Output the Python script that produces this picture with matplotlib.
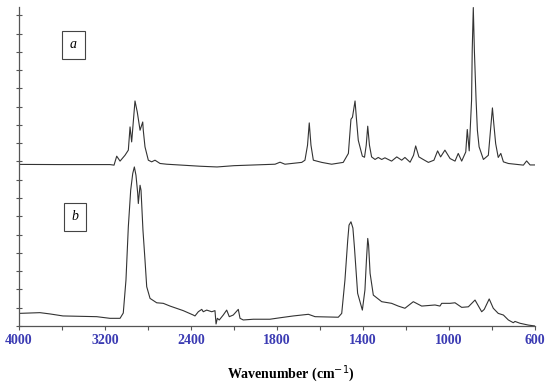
import numpy as np
import matplotlib
matplotlib.use("Agg")
import matplotlib.pyplot as plt

# spectrum a (upper trace), wavenumber in cm-1 and absorbance (stacked units)
wn_a = [4000, 3619, 3154, 3116, 3091, 3060, 3014, 2983, 2967, 2952, 2921, 2900,
        2874, 2849, 2844, 2828, 2797, 2766, 2735, 2688, 2626, 2316, 2158, 2000,
        1809, 1786, 1763, 1685, 1670, 1658, 1650, 1642, 1631, 1592, 1546, 1492,
        1468, 1456, 1449, 1437, 1430, 1422, 1403, 1393, 1385, 1378, 1370, 1360,
        1344, 1329, 1313, 1298, 1267, 1243, 1220, 1205, 1181, 1165, 1155, 1140,
        1120, 1096, 1070, 1053, 1039, 1019, 995, 972, 957, 941, 922, 915, 906,
        895, 892, 887, 882, 874, 868, 860, 840, 817, 807, 798, 791, 783, 771,
        759, 747, 724, 654, 639, 623, 600]
abs_a = [0.884, 0.883, 0.883, 0.880, 0.929, 0.902, 0.934, 0.962, 1.089, 1.007,
         1.231, 1.171, 1.071, 1.116, 1.071, 0.980, 0.907, 0.898, 0.907, 0.889,
         0.885, 0.874, 0.870, 0.877, 0.885, 0.896, 0.885, 0.895, 0.907, 0.989,
         1.111, 0.989, 0.907, 0.895, 0.885, 0.895, 0.944, 1.131, 1.142, 1.231,
         1.126, 1.016, 0.929, 0.923, 0.989, 1.093, 0.989, 0.925, 0.911, 0.922,
         0.911, 0.920, 0.902, 0.925, 0.907, 0.922, 0.896, 0.934, 0.985, 0.925,
         0.911, 0.895, 0.907, 0.958, 0.925, 0.962, 0.916, 0.902, 0.944, 0.902,
         0.952, 1.075, 0.958, 1.235, 1.508, 1.742, 1.508, 1.235, 1.071, 0.980,
         0.911, 0.934, 1.071, 1.193, 1.098, 0.998, 0.922, 0.944, 0.898, 0.889,
         0.880, 0.903, 0.881, 0.881]

# spectrum b (lower trace)
wn_b = [4000, 3805, 3712, 3591, 3277, 3154, 3060, 3030, 3005, 2983, 2961, 2942,
        2927, 2912, 2896, 2890, 2874, 2865, 2859, 2847, 2828, 2812, 2781, 2719,
        2658, 2595, 2472, 2379, 2363, 2332, 2300, 2286, 2254, 2207, 2177, 2167,
        2155, 2137, 2100, 2068, 2044, 2007, 1980, 1972, 1957, 1910, 1833, 1786,
        1724, 1654, 1623, 1515, 1499, 1484, 1471, 1465, 1456, 1447, 1440, 1425,
        1403, 1391, 1384, 1378, 1374, 1367, 1352, 1313, 1267, 1236, 1205, 1166,
        1127, 1065, 1042, 1034, 995, 972, 941, 910, 879, 848, 836, 813, 794, 771,
        747, 724, 701, 693, 670, 631, 600]
abs_b = [0.069, 0.073, 0.066, 0.055, 0.051, 0.042, 0.042, 0.071, 0.251, 0.543,
         0.743, 0.834, 0.870, 0.825, 0.727, 0.670, 0.770, 0.743, 0.672, 0.525,
         0.361, 0.215, 0.151, 0.127, 0.124, 0.109, 0.084, 0.060, 0.055, 0.078,
         0.091, 0.078, 0.087, 0.078, 0.084, 0.011, 0.042, 0.033, 0.060, 0.087,
         0.051, 0.060, 0.091, 0.042, 0.033, 0.037, 0.037, 0.045, 0.055, 0.064,
         0.051, 0.048, 0.069, 0.251, 0.470, 0.552, 0.570, 0.536, 0.433, 0.179,
         0.087, 0.197, 0.361, 0.479, 0.443, 0.288, 0.169, 0.133, 0.124, 0.109,
         0.097, 0.133, 0.109, 0.115, 0.109, 0.124, 0.124, 0.127, 0.102, 0.105,
         0.142, 0.078, 0.091, 0.148, 0.097, 0.069, 0.060, 0.033, 0.018, 0.025,
         0.015, 0.005, 0.0]

xticks = [4000, 3600, 3200, 2800, 2400, 2000, 1800, 1600, 1400, 1200, 1000, 800, 600]
xlabels = ['4000', '', '3200', '', '2400', '', '1800', '', '1400', '', '1000', '', '600']

serif = ['Liberation Serif', 'DejaVu Serif']
blue = '#3b3bb3'


# x axis is expanded 2x below 2000 cm-1
def fwd(w):
    w = np.asarray(w, dtype=float)
    return np.where(w >= 2000, w, 2 * w - 2000)


def inv(x):
    x = np.asarray(x, dtype=float)
    return np.where(x >= 2000, x, (x + 2000) / 2)


fig = plt.figure(figsize=(5.5, 3.87), dpi=100)
ax = fig.add_axes([19 / 550, 61 / 387, 516 / 550, 319 / 387])

ax.plot(wn_a, abs_a, color='#333333', lw=0.8)
ax.plot(wn_b, abs_b, color='#333333', lw=0.8)

ax.set_xscale('function', functions=(fwd, inv))
ax.set_xlim(4000, 600)
ax.set_ylim(0, 1.745)

ax.set_xticks(xticks)
ax.set_xticklabels(xlabels, fontfamily=serif, fontweight='bold', fontsize=10, color=blue)
ax.set_yticks(np.arange(0, 1.75, 0.1))
ax.set_yticklabels([])
ax.minorticks_off()
ax.tick_params(axis='x', direction='out', length=3, width=0.8, color='#555555', pad=3)
ax.tick_params(axis='y', direction='inout', length=4, width=0.8, color='#555555')

for s in ['top', 'right']:
    ax.spines[s].set_visible(False)
for s in ['left', 'bottom']:
    ax.spines[s].set_color('#555555')
    ax.spines[s].set_linewidth(0.9)

box = dict(boxstyle='square,pad=0.55', fc='white', ec='#444444', lw=0.8)
ax.text(0.1056, 0.882, 'a', transform=ax.transAxes, ha='center', va='center',
        fontfamily=serif, fontstyle='italic', fontsize=10, bbox=box)
ax.text(0.1085, 0.342, 'b', transform=ax.transAxes, ha='center', va='center',
        fontfamily=serif, fontstyle='italic', fontsize=10, bbox=box)

fig.text(291 / 550, 1 - 374 / 387, 'Wavenumber (cm$^{-1}$)', ha='center', va='center',
         fontfamily=serif, fontweight='bold', fontsize=10)

plt.savefig('out.png', dpi=100)
